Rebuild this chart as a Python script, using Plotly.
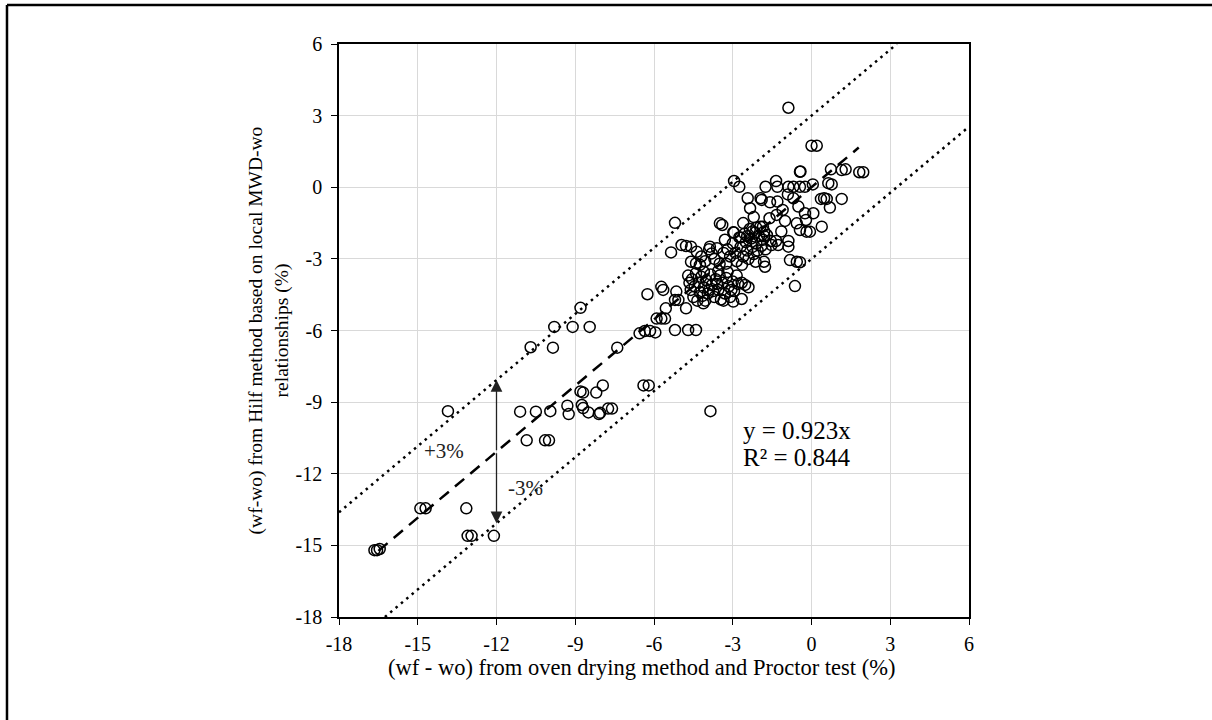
import plotly.graph_objects as go

# ---- data ----
x_oven = [
    -16.65, -16.55, -16.45, -14.9, -14.7, -13.15, -13.1, -12.95, -12.1, -13.85,
    -11.1, -10.5, -9.95, -10.85, -10.15, -10.0, -10.7, -9.85, -9.8, -9.1, -8.45, -8.8,
    -9.3, -9.25, -8.75, -8.7, -8.5, -8.8, -8.7, -8.2, -7.95, -8.1, -8.05, -7.75, -7.6,
    -7.4, -6.4, -6.2, -3.85,
    -6.55, -6.35, -6.15, -5.95, -5.2, -4.7, -4.4, -5.9, -5.72, -5.58, -5.55, -4.78,
    -6.25, -5.72, -5.65, -5.15, -5.2, -5.07, -4.12, -2.98, -2.66, -2.66, -2.53, -2.4,
    -5.35, -5.2,
    -4.7, -4.55, -4.4, -4.3, -4.2, -4.1, -4.0, -3.95, -3.85, -3.8, -3.7, -3.65, -3.55,
    -3.5, -3.45, -3.4, -3.3, -3.25, -3.15, -3.1, -3.0, -2.95, -2.85, -2.8, -4.6, -4.5,
    -4.35, -4.15, -4.05, -3.9, -3.6, -3.35, -3.2, -4.45, -4.25, -3.75, -4.65, -3.05,
    -3.55, -4.1,
    -4.95, -4.78, -4.59, -4.37, -4.59, -4.4, -3.87, -3.8, -4.2, -4.05, -3.9, -3.7, -3.6,
    -4.25, -3.5,
    -3.49, -3.4, -2.98, -3.3, -3.2, -3.1, -3.0, -2.9, -2.85, -2.75, -2.7, -2.6, -2.55,
    -2.5, -2.45, -2.4, -2.35, -2.3, -2.25, -2.2, -2.15, -2.1, -2.05, -2.0, -1.95, -1.9,
    -1.85, -1.8, -1.75, -1.7, -3.25, -3.35, -2.65, -2.13, -1.81, -1.77, -1.52, -1.27,
    -0.88, -0.82, -0.56, -0.44, -0.63,
    -0.88, 0.0, 0.2, -0.44, -0.42, 0.74, 1.15, 1.3, 1.82, 1.97,
    -2.95, -2.75, -1.75, -1.35, -1.3, -0.88, -0.69, -0.44, -0.25, 0.05, 0.64, 0.77,
    1.15, 0.36, 0.48, 0.58, 0.7, -2.43, -2.34, -1.94, -1.9, -1.58, -1.3,
    -1.33, -0.69, -0.5, -0.25, 0.07, -0.21, 0.39, -1.01, -0.56, -0.44, -0.19, -0.06,
    -2.95, -2.7, -2.45, -2.25, -2.1, -1.85, -1.8, -1.55, -1.35, -0.88,
    -1.6, -1.15, -2.2, -2.6, -0.9, -1.1,
]
y_hilf = [
    -15.2, -15.2, -15.15, -13.45, -13.45, -13.45, -14.6, -14.6, -14.6, -9.38,
    -9.4, -9.4, -9.38, -10.6, -10.6, -10.6, -6.7, -6.72, -5.85, -5.85, -5.85, -5.05,
    -9.15, -9.5, -9.12, -9.25, -9.43, -8.55, -8.6, -8.6, -8.3, -9.5, -9.45, -9.27, -9.27,
    -6.72, -8.3, -8.3, -9.38,
    -6.12, -6.02, -6.02, -6.08, -5.98, -5.98, -5.98, -5.5, -5.5, -5.5, -5.07, -5.07,
    -4.48, -4.17, -4.3, -4.37, -4.72, -4.72, -4.86, -4.79, -4.68, -4.0, -4.09, -4.19,
    -2.73, -1.49,
    -3.7, -3.85, -3.6, -4.0, -3.75, -4.2, -3.9, -4.45, -3.65, -4.1, -4.6, -3.85, -4.3,
    -3.7, -4.7, -4.0, -4.45, -3.8, -4.15, -4.6, -3.95, -4.35, -3.7, -4.05, -4.3, -4.6,
    -4.75, -4.55, -4.75, -4.3, -4.05, -4.75, -3.55, -4.15, -4.4, -4.35, -4.0, -4.3,
    -3.5, -3.55,
    -2.42, -2.46, -2.49, -2.7, -3.12, -3.19, -2.49, -2.77, -2.9, -3.1, -2.6, -3.0, -2.55,
    -3.25, -3.2,
    -1.51, -1.58, -1.89, -2.2, -2.6, -2.9, -2.35, -2.75, -3.1, -2.1, -2.5, -2.9, -1.95,
    -2.3, -2.65, -3.0, -1.75, -2.15, -2.5, -2.8, -1.9, -2.35, -2.65, -2.05, -1.65, -2.45,
    -2.2, -1.85, -2.6, -2.0, -3.2, -2.75, -3.25, -3.12, -3.12, -3.33, -2.42, -2.42,
    -2.49, -3.05, -3.12, -3.14, -4.14,
    3.33, 1.74, 1.74, 0.65, 0.66, 0.75, 0.72, 0.75, 0.63, 0.63,
    0.26, 0.02, 0.02, 0.26, 0.02, 0.02, 0.02, 0.02, 0.02, 0.12, 0.17, 0.12,
    -0.49, -0.49, -0.46, -0.49, -0.85, -0.46, -0.88, -0.46, -0.53, -0.63, -0.6,
    -1.16, -0.46, -0.81, -1.09, -1.09, -1.37, -1.65, -1.41, -1.51, -1.79, -1.86, -1.86,
    -1.9, -2.1, -2.05, -1.85, -1.7, -1.65, -2.05, -2.25, -2.25, -2.25,
    -1.3, -1.85, -1.25, -1.5, -0.3, -0.95,
]

fit_slope = 0.923
band = 3.0
fit_x_range = [-16.5, 1.8]
upper_x_range = [-18.0, (6.0 - band) / fit_slope]
lower_x_range = [(-18.0 + band) / fit_slope, 6.0]
tick_vals = [-18, -15, -12, -9, -6, -3, 0, 3, 6]
tick_text = ["-18", "-15", "-12", "-9", "-6", "-3", "0", "3", "6"]
eq_line1 = "y = 0.923x"
eq_line2 = "R² = 0.844"
x_title = "(wf - wo) from oven drying method and Proctor test (%)"
y_title = "(wf-wo) from Hilf method based on local MWD-wo<br>relationships (%)"
arrow_x = -12.0

FONT = "Liberation Serif"

fig = go.Figure()

fig.add_trace(go.Scatter(
    x=upper_x_range, y=[fit_slope * v + band for v in upper_x_range],
    mode="lines", line=dict(color="black", width=2.5, dash="2.5px,4.5px"),
    hoverinfo="skip", showlegend=False))
fig.add_trace(go.Scatter(
    x=lower_x_range, y=[fit_slope * v - band for v in lower_x_range],
    mode="lines", line=dict(color="black", width=2.5, dash="2.5px,4.5px"),
    hoverinfo="skip", showlegend=False))

fig.add_trace(go.Scatter(
    x=x_oven, y=y_hilf, mode="markers",
    marker=dict(symbol="circle-open", size=11, color="black", line=dict(width=1.5)),
    showlegend=False))

fig.add_trace(go.Scatter(
    x=fit_x_range, y=[fit_slope * v for v in fit_x_range],
    mode="lines", line=dict(color="black", width=2.5, dash="12px,8px"),
    hoverinfo="skip", showlegend=False))

axis_common = dict(
    range=[-18, 6], tickvals=tick_vals, ticktext=tick_text, showgrid=True,
    gridcolor="#d9d9d9", gridwidth=1,
    zeroline=False, showline=True, linecolor="black", linewidth=1.5, mirror=True,
    ticks="outside", ticklen=6, tickcolor="black", tickwidth=1.2,
    tickfont=dict(family=FONT, size=20, color="black"),
)

fig.update_layout(
    width=1212, height=720,
    margin=dict(l=339, r=243, t=44, b=103),
    paper_bgcolor="white", plot_bgcolor="white",
    xaxis=dict(**axis_common, ticklabelstandoff=2),
    yaxis=dict(**axis_common, ticklabelstandoff=5,
               title=dict(text=y_title,
                          font=dict(family=FONT, size=19.5, color="black"), standoff=2)),
    font=dict(family=FONT),
)

# x-axis title (slightly left of the plot centre, as in the reference)
fig.add_annotation(xref="paper", yref="paper", x=0.4794, y=-0.089,
                   xanchor="center", yanchor="middle", text=x_title, showarrow=False,
                   font=dict(family=FONT, size=22.5, color="black"))

# arrows showing the +/-3% band
mid_y = fit_slope * arrow_x
for tip in (mid_y + band, mid_y - band):
    fig.add_annotation(x=arrow_x, y=tip, ax=arrow_x, ay=mid_y, axref="x", ayref="y",
                       xref="x", yref="y", text="", showarrow=True, arrowhead=2,
                       arrowsize=1.8, arrowwidth=1.3, arrowcolor="#222222")

fig.add_annotation(x=-14.0, y=-11.05, text="+3%", showarrow=False,
                   font=dict(family=FONT, size=21, color="#222222"))
fig.add_annotation(x=-10.9, y=-12.6, text="-3%", showarrow=False,
                   font=dict(family=FONT, size=21, color="#222222"))

# equation box
fig.add_shape(type="rect", xref="x", yref="y", x0=-2.85, x1=2.2, y0=-11.96, y1=-9.04,
              fillcolor="white", line=dict(width=0), layer="below")
fig.add_annotation(x=-2.7, y=-10.17, xanchor="left", yanchor="middle", text=eq_line1,
                   showarrow=False, font=dict(family=FONT, size=25, color="black"))
fig.add_annotation(x=-2.7, y=-11.3, xanchor="left", yanchor="middle", text=eq_line2,
                   showarrow=False, font=dict(family=FONT, size=25, color="black"))

# outer frame (top and left edges)
fig.add_shape(type="line", xref="paper", yref="paper", x0=-0.527, x1=1.4,
              y0=1.068, y1=1.068, line=dict(color="black", width=2.5))
fig.add_shape(type="line", xref="paper", yref="paper", x0=-0.527, x1=-0.527,
              y0=1.068, y1=-0.2, line=dict(color="black", width=2.5))

fig.write_html("out.html")
